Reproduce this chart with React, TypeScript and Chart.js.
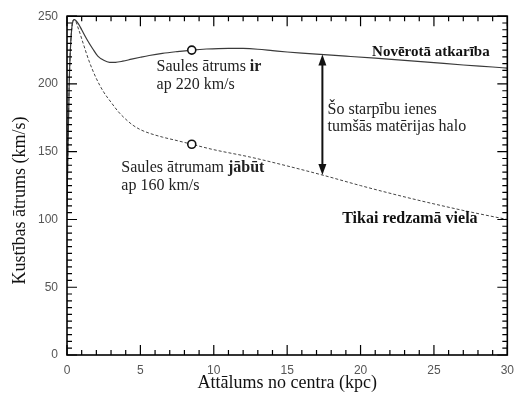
import { useEffect, useRef } from "react";
import { Chart, registerables } from "chart.js";
Chart.register(...registerables);

// ---- data ----
const observedX = [0, 0.15, 0.3, 0.5, 0.8, 1.0, 1.35, 1.75, 2.1, 2.5, 2.9, 3.3, 3.8, 4.4, 5.0, 5.6, 6.5, 7.5, 8.5, 9.5, 11, 12, 13, 14, 15, 16, 17.5, 19, 21, 23, 25, 27, 29, 30];
const observedY = [110, 200, 238, 247.5, 244, 240, 233, 226, 220.5, 217.5, 216, 216, 216.8, 218.3, 219.7, 221, 222.6, 223.9, 225, 225.8, 226.3, 226.2, 225.6, 224.6, 223.6, 222.7, 221.6, 220.5, 219, 217.4, 215.7, 214, 212.5, 211.7];
const visibleX = [0, 0.15, 0.3, 0.5, 0.8, 1.1, 1.5, 2.0, 2.5, 3.0, 3.5, 4.0, 4.5, 5.0, 5.6, 6.5, 7.5, 8.5, 10, 12.5, 15, 17.5, 20, 22.5, 25, 27.5, 30];
const visibleY = [110, 200, 238, 247.5, 240, 230, 217, 204, 194, 186.5, 179.5, 174, 169.5, 166.3, 163.7, 160.8, 158.2, 155.5, 151.5, 146, 139.5, 132.5, 125, 118, 111.5, 105.5, 100];
const sunX = [8.5, 8.5];
const sunY = [225, 155.5];
const arrowX = 17.4;
const arrowFrom = 221.8;
const arrowTo = 132.8;

const xMin = 0, xMax = 30, xStep = 5, xMinor = 1;
const yMin = 0, yMax = 250, yStep = 50, yMinor = 5;

const xTitle = "Attālums no centra (kpc)";
const yTitle = "Kustības ātrums (km/s)";
const labelObserved = "Novērotā atkarība";
const labelVisible = "Tikai redzamā viela";
const noteIs1: [string, boolean][] = [["Saules ātrums ", false], ["ir", true]];
const noteIs2 = "ap 220 km/s";
const noteShould1: [string, boolean][] = [["Saules ātrumam ", false], ["jābūt", true]];
const noteShould2 = "ap 160 km/s";
const noteHalo1 = "Šo starpību ienes";
const noteHalo2 = "tumšās matērijas halo";

const SERIF = '"Liberation Serif", "Times New Roman", serif';
const SANS = '"Liberation Sans", Arial, sans-serif';

const decorPlugin = {
  id: "decor",
  afterDraw(chart: any) {
    const ctx: CanvasRenderingContext2D = chart.ctx;
    const xs = chart.scales.x, ys = chart.scales.y;
    const px = (v: number) => xs.getPixelForValue(v);
    const py = (v: number) => ys.getPixelForValue(v);
    ctx.save();
    ctx.setLineDash([]);
    const L = px(xMin);
    const R = px(xMax);
    const T = py(yMax);
    const B = py(yMin);
    // frame
    ctx.strokeStyle = "#000";
    ctx.lineWidth = 1.6;
    ctx.strokeRect(L, T, R - L, B - T);
    // inward ticks
    ctx.lineWidth = 1.2;
    ctx.beginPath();
    for (let i = 0; i <= Math.round((xMax - xMin) / xMinor); i++) {
      const v = xMin + i * xMinor;
      const major = i % Math.round(xStep / xMinor) === 0;
      const len = major ? 10 : 5;
      const x = px(v);
      ctx.moveTo(x, B);
      ctx.lineTo(x, B - len);
      ctx.moveTo(x, T);
      ctx.lineTo(x, T + len);
    }
    for (let i = 0; i <= Math.round((yMax - yMin) / yMinor); i++) {
      const v = yMin + i * yMinor;
      const major = i % Math.round(yStep / yMinor) === 0;
      const len = major ? 10 : 5;
      const y = py(v);
      ctx.moveTo(L, y);
      ctx.lineTo(L + len, y);
      ctx.moveTo(R, y);
      ctx.lineTo(R - len, y);
    }
    ctx.stroke();

    // arrow
    const ax = px(arrowX);
    const yTop = py(arrowFrom), yBot = py(arrowTo);
    ctx.fillStyle = "#111";
    ctx.strokeStyle = "#111";
    ctx.lineWidth = 2;
    ctx.beginPath();
    ctx.moveTo(ax, yTop + 8); ctx.lineTo(ax, yBot - 8);
    ctx.stroke();
    ctx.beginPath();
    ctx.moveTo(ax, yTop); ctx.lineTo(ax - 4, yTop + 11); ctx.lineTo(ax + 4, yTop + 11); ctx.closePath();
    ctx.fill();
    ctx.beginPath();
    ctx.moveTo(ax, yBot); ctx.lineTo(ax - 4, yBot - 11); ctx.lineTo(ax + 4, yBot - 11); ctx.closePath();
    ctx.fill();

    // annotations
    const rich = (segs: [string, boolean][], x: number, y: number) => {
      let cx = x;
      for (const [t, b] of segs) {
        ctx.font = `${b ? "bold " : ""}16px ${SERIF}`;
        ctx.fillText(t, cx, y);
        cx += ctx.measureText(t).width;
      }
    };
    ctx.fillStyle = "#222";
    ctx.textBaseline = "middle";
    ctx.textAlign = "left";
    rich(noteIs1, px(6.1), py(212.6));
    rich([[noteIs2, false]], px(6.1), py(199.4));
    rich([[noteHalo1, false]], px(17.75), py(181));
    rich([[noteHalo2, false]], px(17.75), py(168.6));
    rich(noteShould1, px(3.7), py(137.8));
    rich([[noteShould2, false]], px(3.7), py(124.6));
    ctx.fillStyle = "#111";
    ctx.textAlign = "right";
    ctx.font = `bold 15px ${SERIF}`;
    ctx.fillText(labelObserved, px(28.8), py(223.6));
    ctx.textAlign = "left";
    ctx.font = `bold 16px ${SERIF}`;
    ctx.fillText(labelVisible, px(18.75), py(100.4));

    // y title
    ctx.fillStyle = "#111";
    ctx.font = `18px ${SERIF}`;
    ctx.textAlign = "center";
    ctx.textBaseline = "middle";
    ctx.translate(20, (T + B) / 2 + 15);
    ctx.rotate(-Math.PI / 2);
    ctx.fillText(yTitle, 0, 0);
    ctx.restore();
  },
};

export default function App() {
  const ref = useRef<HTMLCanvasElement | null>(null);
  useEffect(() => {
    if (!ref.current) return;
    const chart = new Chart(ref.current, {
      type: "line",
      data: {
        datasets: [
          {
            data: sunX.map((x, i) => ({ x, y: sunY[i] })),
            showLine: false,
            pointRadius: 4,
            pointBackgroundColor: "#fff",
            pointBorderColor: "#111",
            pointBorderWidth: 1.6,
          },
          {
            data: observedX.map((x, i) => ({ x, y: observedY[i] })),
            borderColor: "#3a3a3a",
            borderWidth: 1.2,
            pointRadius: 0,
            cubicInterpolationMode: "monotone",
            fill: false,
          },
          {
            data: visibleX.map((x, i) => ({ x, y: visibleY[i] })),
            borderColor: "#444",
            borderWidth: 1,
            borderDash: [3, 2],
            pointRadius: 0,
            cubicInterpolationMode: "monotone",
            fill: false,
          },
        ],
      },
      options: {
        animation: false,
        responsive: false,
        devicePixelRatio: 1,
        layout: { padding: { left: 0, right: 10, top: 14, bottom: 0 } },
        plugins: { legend: { display: false }, tooltip: { enabled: false } },
        scales: {
          x: {
            type: "linear",
            min: xMin,
            max: xMax,
            grid: { display: false, drawTicks: false },
            border: { display: false },
            ticks: { stepSize: xStep, padding: 8, color: "#555", font: { family: SANS, size: 12 } },
            title: { display: true, text: xTitle, color: "#111", font: { family: SERIF, size: 18 }, padding: { top: 0, bottom: 2 } },
            afterFit: (s: any) => { s.height = 41; },
          },
          y: {
            type: "linear",
            min: yMin,
            max: yMax,
            grid: { display: false, drawTicks: false },
            border: { display: false },
            ticks: { stepSize: yStep, padding: 9, color: "#555", font: { family: SANS, size: 12 } },
            afterFit: (s: any) => { s.width = 67; },
          },
        },
      },
      plugins: [decorPlugin],
    } as any);
    return () => chart.destroy();
  }, []);
  return (
    <div style={{ position: "fixed", left: 0, top: 0, width: 522, height: 396, background: "#fff" }}>
      <canvas ref={ref} width={522} height={396} />
    </div>
  );
}
